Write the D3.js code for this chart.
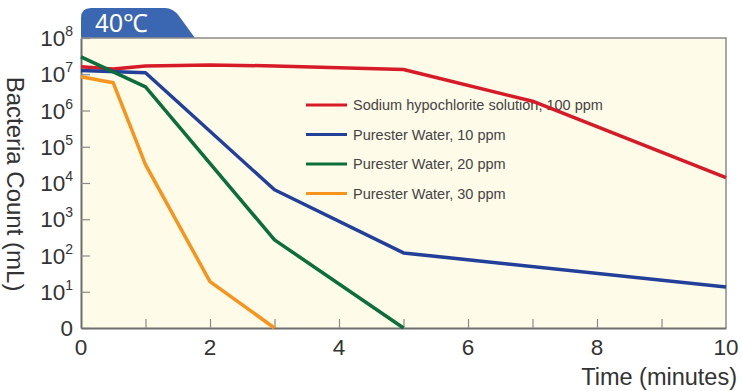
<!DOCTYPE html>
<html>
<head>
<meta charset="utf-8">
<script src="https://cdn.jsdelivr.net/npm/d3@7/dist/d3.min.js"></script>
<style>
  html, body { margin: 0; padding: 0; background: #ffffff; }
  svg { display: block; font-family: "Liberation Sans", Arial, Helvetica, sans-serif; }
</style>
</head>
<body>
<svg id="chart" width="742" height="391"></svg>
<script>
// ---- Data ----
const title = "40℃";
const xTicks = [0, 2, 4, 6, 8, 10];
const xMinorTicks = [1, 2, 3, 4, 5, 6, 7, 8, 9];
const yTickExps = [0, 1, 2, 3, 4, 5, 6, 7, 8];
const xLabel = "Time (minutes)";
const yLabel = "Bacteria Count (mL)";

const seriesNames = [
  "Sodium hypochlorite solution, 100 ppm",
  "Purester Water, 10 ppm",
  "Purester Water, 20 ppm",
  "Purester Water, 30 ppm"
];
const seriesColors = ["#d71a28", "#22409a", "#0b6e3c", "#f7941d"];

const redTime    = [0, 0.5, 1, 2, 3, 5, 7, 10];
const redCount   = [1.6e7, 1.4e7, 1.7e7, 1.8e7, 1.7e7, 1.35e7, 1.8e6, 1.4e4];
const blueTime   = [0, 1, 3, 5, 10];
const blueCount  = [1.26e7, 1.1e7, 6.5e3, 118, 13.5];
const greenTime  = [0, 1, 3, 5];
const greenCount = [3.0e7, 4.5e6, 270, 0];
const orangeTime = [0, 0.5, 1, 2, 3];
const orangeCount= [8.5e6, 5.8e6, 3.2e4, 19, 0];

const series = [
  { name: seriesNames[0], color: seriesColors[0], t: redTime, v: redCount },
  { name: seriesNames[1], color: seriesColors[1], t: blueTime, v: blueCount },
  { name: seriesNames[2], color: seriesColors[2], t: greenTime, v: greenCount },
  { name: seriesNames[3], color: seriesColors[3], t: orangeTime, v: orangeCount }
];

// ---- Layout ----
const svg = d3.select("#chart");
const L = 81, R = 726, T = 38, B = 328;
const x = d3.scaleLinear().domain([0, 10]).range([L, R]);
const y = d3.scaleLog().domain([1, 1e8]).range([B, T]);
const yv = v => y(Math.max(v, 1));

// Title tab
const tabL = L, tabR = 195, tabT = 8, r = 10;
svg.append("path")
  .attr("d", `M${tabL},${T} L${tabL},${tabT + r} Q${tabL},${tabT} ${tabL + r},${tabT} L${tabR - 30},${tabT} Q${tabR - 22},${tabT} ${tabR - 16},${tabT + 8} L${tabR},${T} Z`)
  .attr("fill", "#3b66b2");
svg.append("text")
  .attr("x", 95).attr("y", 32)
  .attr("fill", "#ffffff")
  .attr("font-size", 25)
  .attr("font-weight", 500)
  .text(title);

// Plot background
svg.append("rect")
  .attr("x", L).attr("y", T).attr("width", R - L).attr("height", B - T)
  .attr("fill", "#fefbe8");

// Frame top/right
svg.append("path")
  .attr("d", `M${L},${T} L${R},${T} L${R},${B}`)
  .attr("fill", "none").attr("stroke", "#8a8a8a").attr("stroke-width", 1.5);

// Y ticks (inward)
const yAxis = d3.axisLeft(y)
  .tickValues(yTickExps.map(e => Math.pow(10, e)))
  .tickSizeInner(-9).tickSizeOuter(0)
  .tickFormat("");
const gy = svg.append("g").attr("transform", `translate(${L},0)`).call(yAxis);
gy.select(".domain").attr("stroke", "#6e6e6e").attr("stroke-width", 2);
gy.selectAll(".tick line").attr("stroke", "#8a8a8a").attr("stroke-width", 1.2);

// Y tick labels with superscripts
yTickExps.forEach(e => {
  const t = svg.append("text")
    .attr("x", 73).attr("y", y(Math.pow(10, e)))
    .attr("text-anchor", "end")
    .attr("dominant-baseline", "central")
    .attr("fill", "#333")
    .attr("font-size", 22.5);
  if (e === 0) {
    t.text("0");
  } else {
    t.append("tspan").text("10");
    t.append("tspan").attr("font-size", 14).attr("dy", -7).text(String(e));
  }
});

// X axis
const xAxis = d3.axisBottom(x)
  .tickValues(xMinorTicks)
  .tickSizeInner(-9).tickSizeOuter(0)
  .tickFormat("");
const gx = svg.append("g").attr("transform", `translate(0,${B})`).call(xAxis);
gx.select(".domain").attr("stroke", "#6e6e6e").attr("stroke-width", 2);
gx.selectAll(".tick line").attr("stroke", "#8a8a8a").attr("stroke-width", 1.2);

svg.append("g").selectAll("text").data(xTicks).join("text")
  .attr("x", d => x(d)).attr("y", 355)
  .attr("text-anchor", "middle")
  .attr("fill", "#333")
  .attr("font-size", 22.5)
  .text(d => d);

svg.append("text")
  .attr("x", 737).attr("y", 385)
  .attr("text-anchor", "end")
  .attr("fill", "#333")
  .attr("font-size", 23.5)
  .text(xLabel);

svg.append("text")
  .attr("transform", `translate(15,184) rotate(90)`)
  .attr("text-anchor", "middle")
  .attr("dominant-baseline", "central")
  .attr("fill", "#333")
  .attr("font-size", 24)
  .text(yLabel);

// Legend
const legY0 = 105, legDy = 29.5;
const leg = svg.append("g");
series.forEach((s, i) => {
  const yy = legY0 + i * legDy;
  leg.append("line")
    .attr("x1", 306).attr("x2", 347).attr("y1", yy).attr("y2", yy)
    .attr("stroke", s.color).attr("stroke-width", 3);
  leg.append("text")
    .attr("x", 353).attr("y", yy)
    .attr("dominant-baseline", "central")
    .attr("fill", "#444")
    .attr("font-size", 14.5)
    .text(s.name);
});

// Lines
const line = d3.line().x(d => x(d[0])).y(d => yv(d[1]));
series.forEach(s => {
  svg.append("path")
    .datum(s.t.map((t, i) => [t, s.v[i]]))
    .attr("d", line)
    .attr("fill", "none")
    .attr("stroke", s.color)
    .attr("stroke-width", 3.5)
    .attr("stroke-linejoin", "round");
});
</script>
</body>
</html>
